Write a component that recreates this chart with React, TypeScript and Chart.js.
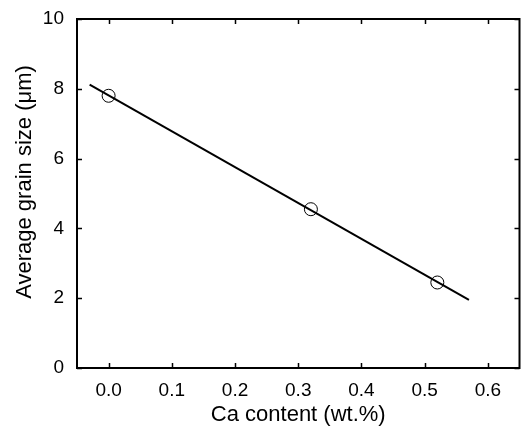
import React, { useEffect, useRef } from "react";
import { Chart, registerables } from "chart.js";

Chart.register(...registerables);

const caContent = [0.0, 0.32, 0.52];
const grainSize = [7.8, 4.55, 2.45];
const fitX = [-0.03, 0.57];
const fitY = [8.12, 1.95];
const xTicks = [0.0, 0.1, 0.2, 0.3, 0.4, 0.5, 0.6];
const yTicks = [0, 2, 4, 6, 8, 10];
const yTitle = "Average grain size (\u03bcm)";

const FONT = "'Liberation Sans', Arial, Helvetica, sans-serif";

const framePlugin = {
  id: "frameTicks",
  afterDraw(chart: any) {
    const { ctx, chartArea } = chart;
    const { left, top, right, bottom } = chartArea;
    const xs = chart.scales.x;
    const ys = chart.scales.y;
    const tl = 5;
    ctx.save();
    ctx.strokeStyle = "#000";
    ctx.lineWidth = 2;
    ctx.strokeRect(left, top, right - left, bottom - top);
    ctx.lineWidth = 1.5;
    ctx.beginPath();
    xTicks.forEach((v) => {
      const px = Math.round(xs.getPixelForValue(v)) + 0.5;
      ctx.moveTo(px, bottom);
      ctx.lineTo(px, bottom - tl);
      ctx.moveTo(px, top);
      ctx.lineTo(px, top + tl);
    });
    yTicks.forEach((v) => {
      const py = Math.round(ys.getPixelForValue(v)) + 0.5;
      ctx.moveTo(left, py);
      ctx.lineTo(left + tl, py);
      ctx.moveTo(right, py);
      ctx.lineTo(right - tl, py);
    });
    ctx.stroke();
    // y axis title
    ctx.fillStyle = "#000";
    ctx.font = `22px ${FONT}`;
    ctx.textAlign = "center";
    ctx.textBaseline = "middle";
    ctx.translate(25, 182);
    ctx.rotate(-Math.PI / 2);
    ctx.fillText(yTitle, 0, 0);
    ctx.restore();
  },
};

export default function App() {
  const ref = useRef<HTMLCanvasElement | null>(null);
  useEffect(() => {
    const canvas = ref.current;
    if (!canvas) return;
    const chart = new Chart(canvas, {
      type: "scatter",
      data: {
        datasets: [
          {
            label: "fit",
            data: fitX.map((x, i) => ({ x, y: fitY[i] })),
            showLine: true,
            borderColor: "#000",
            borderWidth: 2,
            pointRadius: 0,
            fill: false,
          },
          {
            label: "data",
            data: caContent.map((x, i) => ({ x, y: grainSize[i] })),
            showLine: false,
            pointRadius: 6.5,
            pointBorderWidth: 1,
            pointBorderColor: "#000",
            pointBackgroundColor: "rgba(0,0,0,0)",
          },
        ],
      },
      options: {
        animation: false,
        responsive: false,
        maintainAspectRatio: false,
        devicePixelRatio: 1,
        layout: { autoPadding: false, padding: { top: 19, right: 1.5, left: 0, bottom: 0 } },
        plugins: {
          legend: { display: false },
          tooltip: { enabled: false },
        },
        scales: {
          x: {
            type: "linear",
            min: -0.05,
            max: 0.65,
            grid: { display: false },
            border: { display: false },
            afterFit: (s: any) => {
              s.height = 59;
              s.paddingLeft = 0;
              s.paddingRight = 0;
            },
            afterBuildTicks: (s: any) => {
              s.ticks = xTicks.map((v) => ({ value: v }));
            },
            ticks: {
              color: "#000",
              padding: 3,
              maxRotation: 0,
              font: { family: FONT, size: 19 },
              callback: (v: any) => Number(v).toFixed(1),
            },
            title: {
              display: true,
              text: "Ca content (wt.%)",
              color: "#000",
              font: { family: FONT, size: 22, lineHeight: 1.1 },
              padding: { top: 0, bottom: 0 },
            },
          },
          y: {
            type: "linear",
            min: 0,
            max: 10,
            grid: { display: false },
            border: { display: false },
            afterFit: (s: any) => {
              s.width = 77;
              s.paddingTop = 0;
              s.paddingBottom = 0;
            },
            afterBuildTicks: (s: any) => {
              s.ticks = yTicks.map((v) => ({ value: v }));
            },
            ticks: {
              color: "#000",
              padding: 5,
              font: { family: FONT, size: 19 },
              callback: (v: any) => String(v),
            },
            title: { display: false },
          },
        },
      },
      plugins: [framePlugin],
    });
    return () => chart.destroy();
  }, []);
  return (
    <div style={{ position: "fixed", left: 0, top: 0, width: 521, height: 427, background: "#fff" }}>
      <canvas ref={ref} width={521} height={427} style={{ display: "block", width: 521, height: 427 }} />
    </div>
  );
}
